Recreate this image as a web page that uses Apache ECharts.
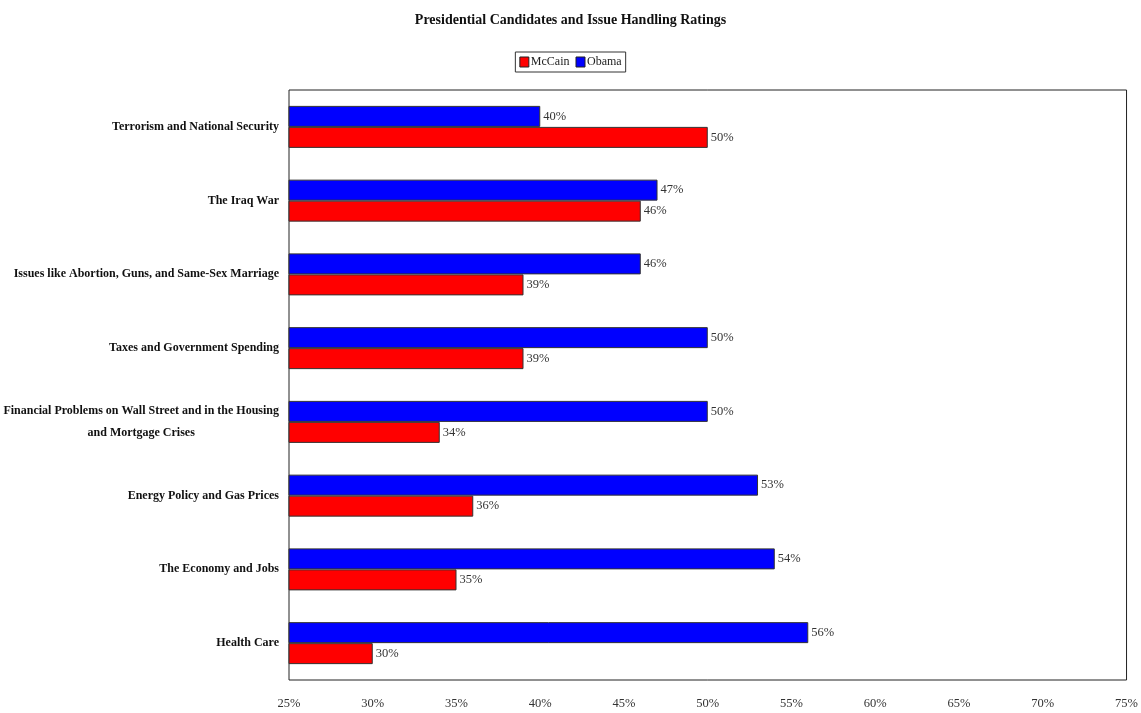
<!DOCTYPE html>
<html>
<head>
<meta charset="utf-8">
<title>Presidential Candidates and Issue Handling Ratings</title>
<script src="https://cdn.jsdelivr.net/npm/echarts@6/dist/echarts.min.js"></script>
<style>
  html, body { margin: 0; padding: 0; background: #fff; }
  #chart { width: 1141px; height: 713px; }
</style>
</head>
<body>
<div id="chart"></div>
<script>
// Issues, listed top to bottom
const issues = [
  'Terrorism and National Security',
  'The Iraq War',
  'Issues like Abortion, Guns, and Same-Sex Marriage',
  'Taxes and Government Spending',
  'Financial Problems on Wall Street and in the Housing\nand Mortgage Crises',
  'Energy Policy and Gas Prices',
  'The Economy and Jobs',
  'Health Care'
];

// Share of voters trusting each candidate on the issue (%)
const obamaValues  = [40, 47, 46, 50, 50, 53, 54, 56];
const mccainValues = [50, 46, 39, 39, 34, 36, 35, 30];

const legendNames = ['McCain', 'Obama'];

const FONT = '"Liberation Serif", "DejaVu Serif", serif';

const chart = echarts.init(document.getElementById('chart'), null, { renderer: 'canvas' });

const barLabel = {
  show: true,
  position: 'right',
  distance: 3,
  formatter: '{c}%',
  color: '#333',
  fontFamily: FONT,
  fontSize: 12.5
};

chart.setOption({
  animation: false,
  backgroundColor: '#fff',
  title: {
    text: 'Presidential Candidates and Issue Handling Ratings',
    left: 'center',
    top: 8,
    textStyle: { fontFamily: FONT, fontSize: 14, fontWeight: 'bold', color: '#111' }
  },
  legend: {
    data: legendNames,
    top: 52,
    left: 'center',
    icon: 'rect',
    itemWidth: 9,
    itemHeight: 10,
    itemGap: 6,
    padding: [4, 4],
    borderColor: '#333',
    borderWidth: 1,
    itemStyle: { borderColor: '#222', borderWidth: 1 },
    textStyle: { fontFamily: FONT, fontSize: 12, color: '#222', padding: [0, 0, 0, -3] }
  },
  grid: {
    left: 289,
    right: 13,
    top: 90,
    bottom: 33,
    show: true,
    borderColor: '#222',
    borderWidth: 1,
    containLabel: false
  },
  xAxis: {
    type: 'value',
    min: 25,
    max: 75,
    interval: 5,
    axisLine: { show: false },
    axisTick: { show: false },
    splitLine: { show: false },
    axisLabel: {
      formatter: '{value}%',
      margin: 17,
      color: '#333',
      fontFamily: FONT,
      fontSize: 12.5
    }
  },
  yAxis: {
    type: 'category',
    inverse: true,
    data: issues,
    axisLine: { show: false },
    axisTick: { show: false },
    axisLabel: {
      margin: 10,
      color: '#111',
      fontFamily: FONT,
      fontSize: 12,
      fontWeight: 'bold',
      lineHeight: 22,
      formatter: function (v) {
        return v.split('\n').map(function (s) { return '{c|' + s + '}'; }).join('\n');
      },
      rich: {
        c: { align: 'center', fontFamily: FONT, fontSize: 12, fontWeight: 'bold', color: '#111', lineHeight: 22 }
      }
    }
  },
  series: [
    {
      name: 'Obama',
      type: 'bar',
      data: obamaValues,
      barWidth: 21,
      barGap: '0%',
      itemStyle: { color: '#0000ff', borderColor: '#333', borderWidth: 1 },
      label: barLabel
    },
    {
      name: 'McCain',
      type: 'bar',
      data: mccainValues,
      barWidth: 21,
      barGap: '0%',
      itemStyle: { color: '#ff0000', borderColor: '#333', borderWidth: 1 },
      label: barLabel
    }
  ]
});
</script>
</body>
</html>
